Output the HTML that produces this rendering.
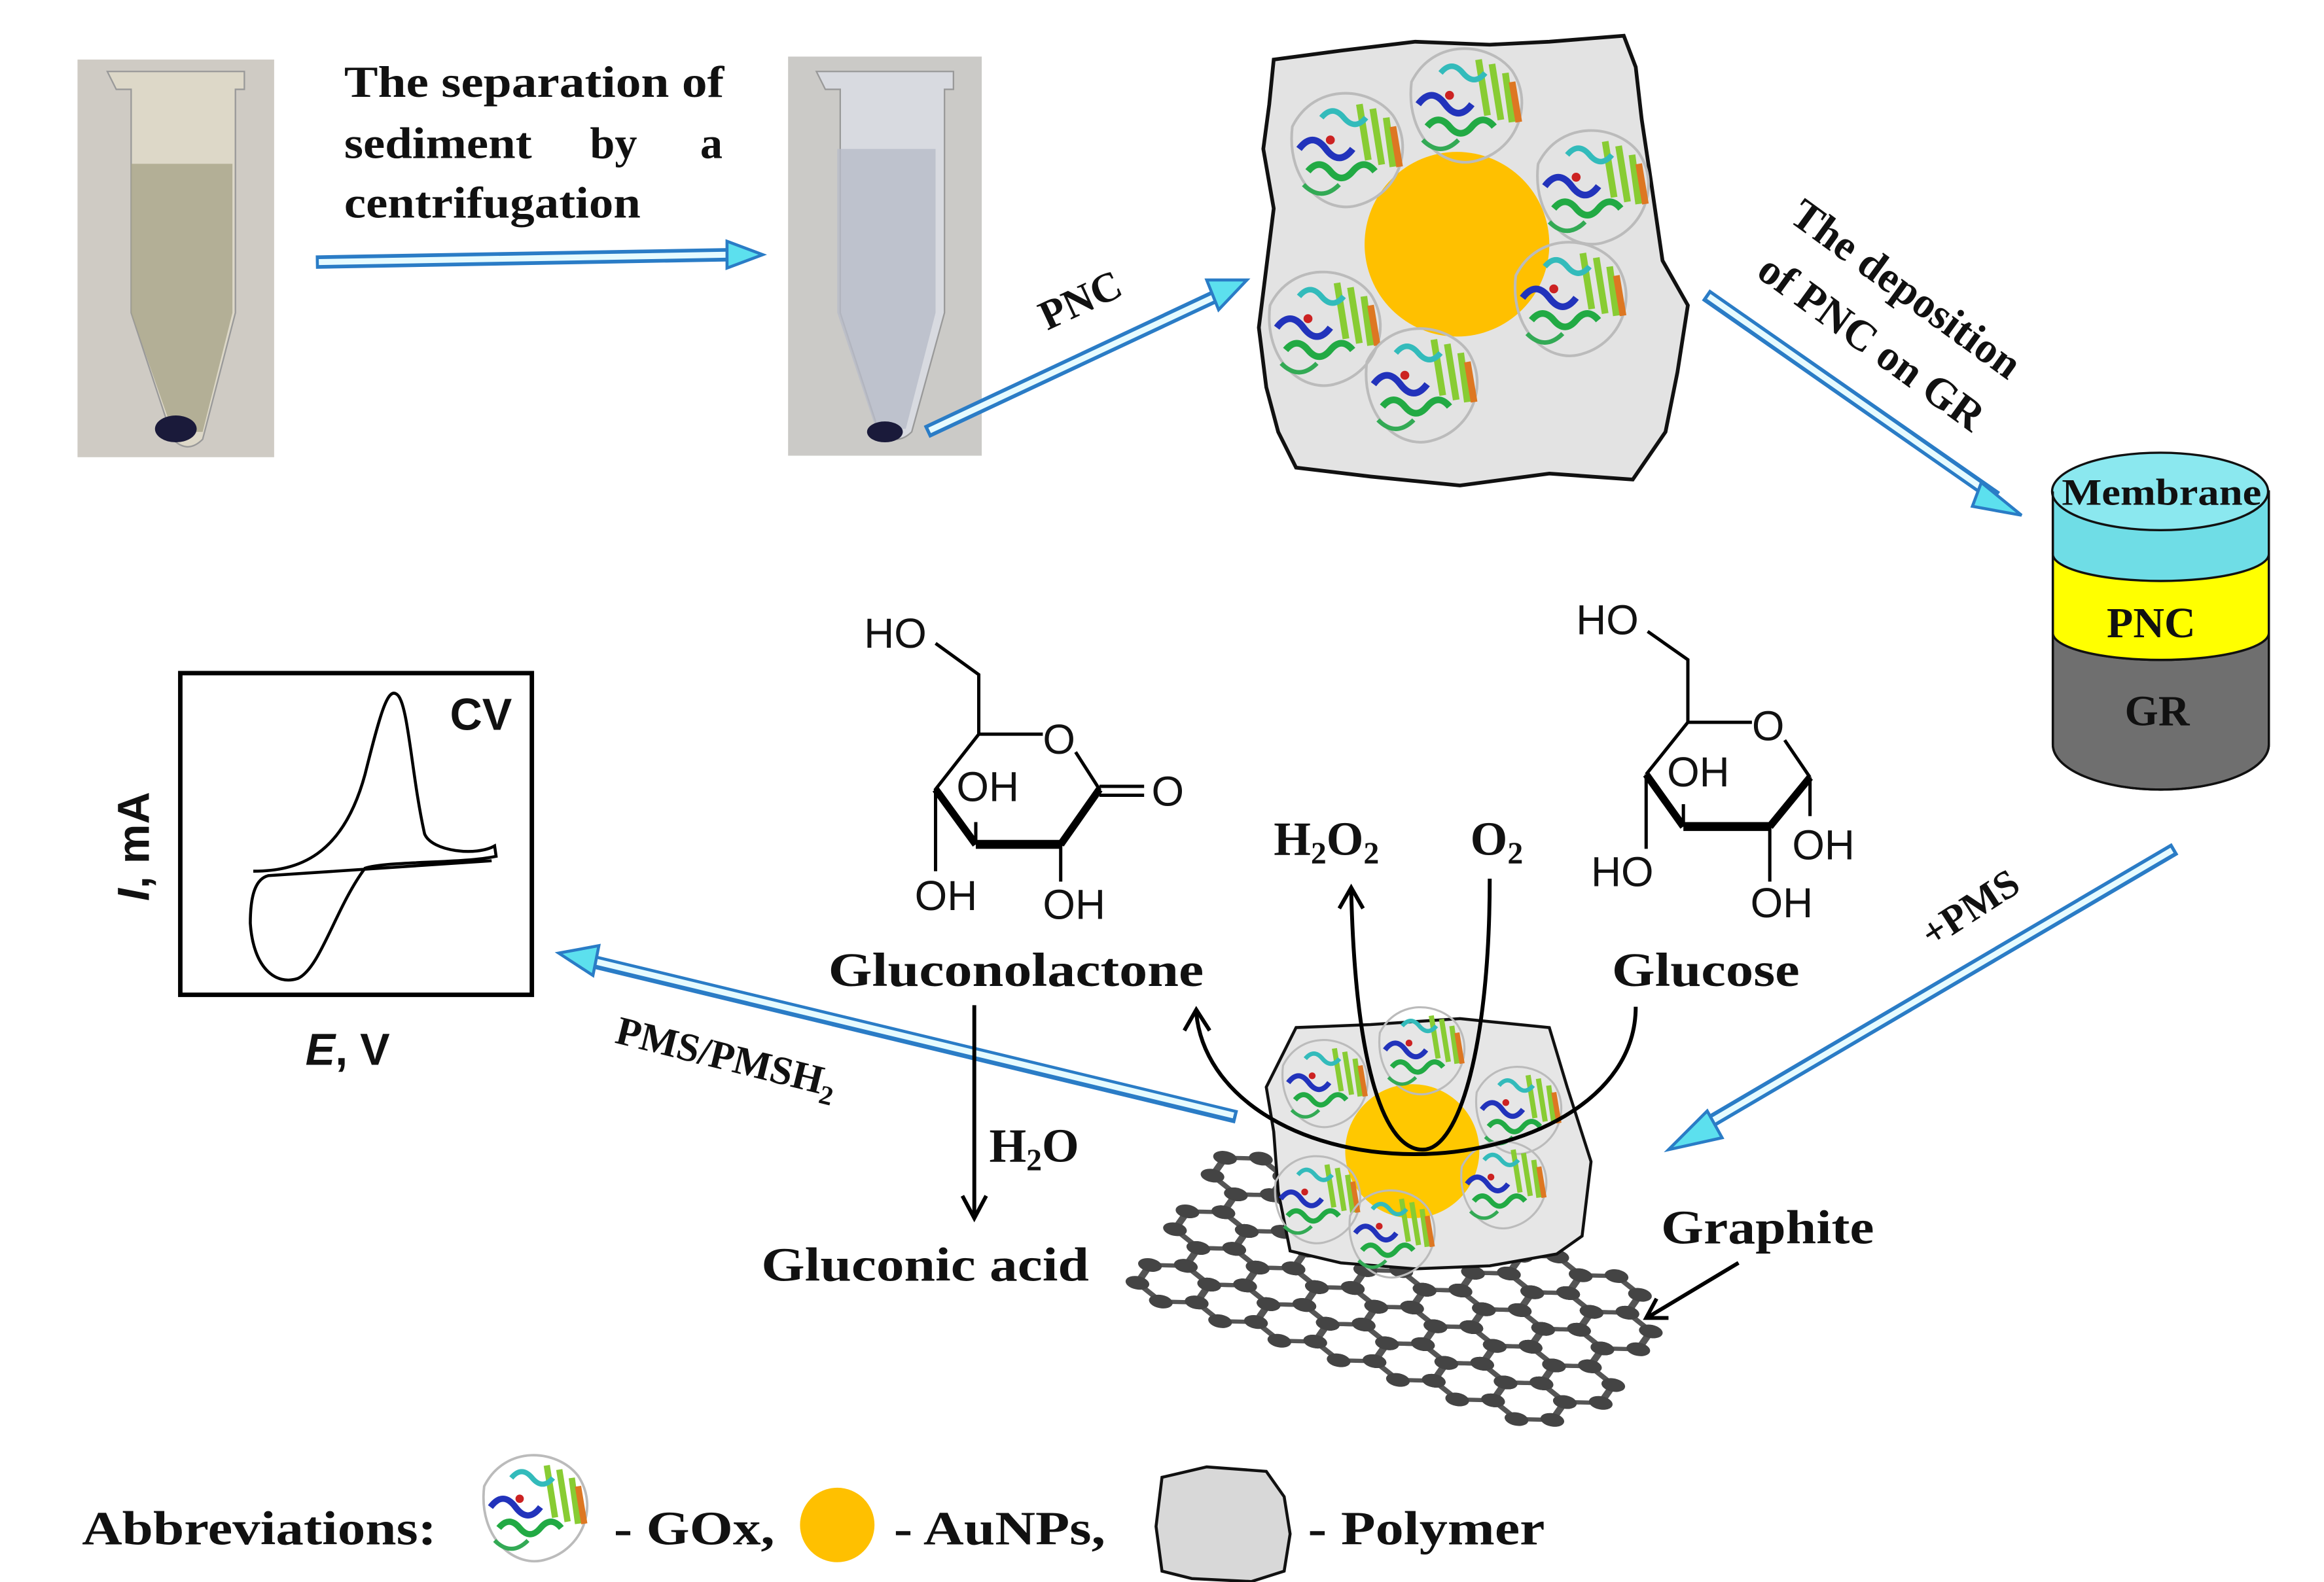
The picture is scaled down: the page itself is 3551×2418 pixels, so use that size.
<!DOCTYPE html>
<html><head><meta charset="utf-8"><style>
html,body{margin:0;padding:0;background:#fff;}
svg{display:block;}
.t{font-family:"Liberation Serif",serif;font-weight:bold;fill:#111;}
.s{font-family:"Liberation Sans",sans-serif;fill:#111;}
</style></head><body>
<svg width="3551" height="2418" viewBox="0 0 1560 1062.3" xmlns="http://www.w3.org/2000/svg">
<defs>
<g id="prot">
<path d="M-25,-10 C-15,-30 10,-28 20,-15 C30,0 22,20 5,25 C-10,30 -28,15 -25,-10Z" fill="none" stroke="#bbb" stroke-width="1.2"/>
<path d="M-22,0 q6,-8 12,0 t12,0" stroke="#2233bb" stroke-width="3" fill="none"/>
<path d="M-18,10 q5,-6 10,0 t10,0 t10,0" stroke="#22aa44" stroke-width="3" fill="none"/>
<path d="M5,-20 l4,25 M11,-18 l4,25 M17,-14 l3,22" stroke="#88cc33" stroke-width="3"/>
<path d="M-12,-14 q5,-6 10,0 t10,0" stroke="#33bbbb" stroke-width="2.5" fill="none"/>
<path d="M20,-10 l3,18" stroke="#dd7722" stroke-width="3"/>
<path d="M-20,16 q8,8 16,0" stroke="#33aa55" stroke-width="2" fill="none"/>
<circle cx="-8" cy="-4" r="2" fill="#cc2222"/>
</g>
<g id="hex" stroke="#555" stroke-width="4" fill="none">
<path d="M0,-20 L17.3,-10 L17.3,10 L0,20 L-17.3,10 L-17.3,-10Z"/>
</g>
<g id="atoms" fill="#444">
<circle cx="0" cy="-20" r="6.5"/><circle cx="17.3" cy="-10" r="6.5"/><circle cx="17.3" cy="10" r="6.5"/>
<circle cx="0" cy="20" r="6.5"/><circle cx="-17.3" cy="10" r="6.5"/><circle cx="-17.3" cy="-10" r="6.5"/>
</g>
</defs>

<!-- tube photos -->
<rect x="52" y="40" width="132" height="267" fill="#cfcbc4"/>
<path d="M72,48 h92 v12 h-6 v150 l-22,85 q-10,10 -20,0 l-28,-85 v-150 h-10Z" fill="#ddd8c8" stroke="#999" stroke-width="1"/>
<path d="M88,110 h68 v100 l-20,80 h-20 l-28,-80Z" fill="#a9a58a" opacity="0.8"/>
<ellipse cx="118" cy="288" rx="14" ry="9" fill="#1a1a3a"/>
<rect x="529" y="38" width="130" height="268" fill="#cbcac7"/>
<path d="M548,48 h92 v12 h-6 v150 l-22,80 q-10,10 -22,0 l-26,-80 v-150 h-10Z" fill="#d8dae0" stroke="#999" stroke-width="1"/>
<path d="M562,100 h66 v110 l-20,78 h-20 l-26,-78Z" fill="#b8bcc8" opacity="0.8"/>
<ellipse cx="594" cy="290" rx="12" ry="7" fill="#1a1a3a"/>

<g class="t" font-size="30">
<text x="231" y="65" textLength="255" lengthAdjust="spacingAndGlyphs">The separation of</text>
<text x="231" y="106" textLength="126" lengthAdjust="spacingAndGlyphs">sediment</text>
<text x="396" y="106">by</text>
<text x="470" y="106">a</text>
<text x="231" y="146" textLength="199" lengthAdjust="spacingAndGlyphs">centrifugation</text>
</g>

<!-- blue double arrows -->
<g stroke-linejoin="miter">
<line x1="212" y1="176" x2="492" y2="171" stroke="#2a7cc6" stroke-width="9"/>
<line x1="214" y1="176" x2="490" y2="171" stroke="#e6fbff" stroke-width="4"/>
<polygon points="488,162 512,171 488,180" fill="#5ce0ee" stroke="#2a7cc6" stroke-width="2"/>

<line x1="622" y1="290" x2="818" y2="198" stroke="#2a7cc6" stroke-width="9"/>
<line x1="624" y1="289" x2="816" y2="199" stroke="#e6fbff" stroke-width="4"/>
<polygon points="810,188 837,188 818,208" fill="#5ce0ee" stroke="#2a7cc6" stroke-width="2"/>

<line x1="1145" y1="198" x2="1340" y2="334" stroke="#2a7cc6" stroke-width="9"/>
<line x1="1147" y1="199" x2="1338" y2="333" stroke="#e6fbff" stroke-width="4"/>
<polygon points="1330,324 1357,346 1324,340" fill="#5ce0ee" stroke="#2a7cc6" stroke-width="2"/>

<line x1="1460" y1="570" x2="1140" y2="758" stroke="#2a7cc6" stroke-width="9"/>
<line x1="1458" y1="571" x2="1142" y2="757" stroke="#e6fbff" stroke-width="4"/>
<polygon points="1146,746 1120,772 1156,764" fill="#5ce0ee" stroke="#2a7cc6" stroke-width="2"/>

<line x1="830" y1="750" x2="395" y2="645" stroke="#2a7cc6" stroke-width="9"/>
<line x1="828" y1="749" x2="397" y2="645" stroke="#e6fbff" stroke-width="4"/>
<polygon points="402,635 375,640 398,655" fill="#5ce0ee" stroke="#2a7cc6" stroke-width="2"/>
</g>

<text class="t" font-size="28" transform="translate(703,222) rotate(-25)">PNC</text>
<g transform="translate(1200,148) rotate(36)"><text class="t" font-size="29" x="0" y="0">The  deposition</text></g>
<g transform="translate(1178,185) rotate(36)"><text class="t" font-size="29" x="0" y="0">of PNC on GR</text></g>
<text class="t" font-size="27" transform="translate(1297,637) rotate(-33)">+PMS</text>
<text class="t" font-size="27" transform="translate(412,700) rotate(14)">PMS/PMSH<tspan font-size="18" dy="6">2</tspan></text>

<!-- PNC blob top -->
<path d="M855,40 L900,34 950,28 1000,30 1040,28 1090,24 1098,45 1102,80 1108,120 1116,175 1133,205 1126,250 1118,290 1096,322 1040,318 980,326 920,320 870,314 858,290 850,260 845,220 850,180 855,140 848,100 852,70Z" fill="#e3e3e3" stroke="#111" stroke-width="2.5"/>
<circle cx="978" cy="164" r="62" fill="#ffc000"/>
<use href="#prot" transform="translate(905,100) scale(1.5)"/>
<use href="#prot" transform="translate(985,70) scale(1.5)"/>
<use href="#prot" transform="translate(1070,125) scale(1.5)"/>
<use href="#prot" transform="translate(890,220) scale(1.5)"/>
<use href="#prot" transform="translate(1055,200) scale(1.5)"/>
<use href="#prot" transform="translate(955,258) scale(1.5)"/>

<!-- cylinder -->
<path d="M1378,330 v170 a72,30 0 0 0 145,0 v-170Z" fill="#6b6b6b"/>
<path d="M1378,425 v75 a72,30 0 0 0 145,0 v-75 a72,18 0 0 1 -145,0Z" fill="#6f6f6f" stroke="#111" stroke-width="1.5"/>
<path d="M1378,372 v53 a72,18 0 0 0 145,0 v-53Z" fill="#ffff00" stroke="#111" stroke-width="1.5"/>
<path d="M1378,330 v42 a72,18 0 0 0 145,0 v-42Z" fill="#6fdde6" stroke="#111" stroke-width="1.5"/>
<ellipse cx="1450" cy="330" rx="72.5" ry="26" fill="#8be8ef" stroke="#111" stroke-width="1.5"/>
<path d="M1378,330 v170 a72,30 0 0 0 145,0 v-170" fill="none" stroke="#111" stroke-width="1.5"/>
<text class="t" font-size="25" x="1384" y="339" textLength="134" lengthAdjust="spacingAndGlyphs">Membrane</text>
<text class="t" font-size="29" x="1444" y="428" text-anchor="middle">PNC</text>
<text class="t" font-size="29" x="1448" y="487" text-anchor="middle">GR</text>

<!-- CV box -->
<rect x="121" y="452" width="236" height="216" fill="#fff" stroke="#000" stroke-width="3"/>
<text class="s" font-weight="bold" font-size="30" x="302" y="490">CV</text>
<path d="M170,585 C200,585 230,575 245,520 C255,480 260,462 266,466 C274,470 276,520 285,560 C290,572 320,575 332,568 L333,575 C310,580 260,578 245,583 C225,610 215,650 200,657 C185,662 170,650 168,620 C168,600 172,590 180,588 L330,578" fill="none" stroke="#000" stroke-width="2"/>
<text class="s" font-weight="bold" font-size="30" transform="translate(100,605) rotate(-90)"><tspan font-style="italic">I</tspan>, mA</text>
<text class="s" font-weight="bold" font-size="30" x="205" y="715"><tspan font-style="italic">E</tspan>, V</text>

<!-- gluconolactone -->
<g stroke="#000" stroke-width="2.2" fill="none">
<path d="M628,432 L657,453 L657,493 L700,493"/>
<path d="M722,505 L738,530 L712,568 M657,493 L628,530 L655,567"/>
<path d="M738,528 H768 M738,534 H768"/>
<path d="M628,530 V585 M712,568 V592 M655,567 V552"/>
</g>
<path d="M628,530 L655,567" stroke="#000" stroke-width="5"/>
<path d="M655,567 L712,567" stroke="#000" stroke-width="6"/>
<path d="M712,567 L738,530" stroke="#000" stroke-width="5"/>
<g class="s" font-size="28">
<text x="580" y="435">HO</text><text x="700" y="506">O</text><text x="773" y="541">O</text>
<text x="642" y="538">OH</text><text x="614" y="611">OH</text><text x="700" y="617">OH</text>
</g>
<text class="t" font-size="32" x="556" y="662" textLength="252" lengthAdjust="spacingAndGlyphs">Gluconolactone</text>

<!-- glucose -->
<g stroke="#000" stroke-width="2.2" fill="none">
<path d="M1106,424 L1133,443 L1133,485 L1176,485"/>
<path d="M1198,497 L1215,522 M1133,485 L1105,520"/>
<path d="M1105,520 V570 M1188,555 V592 M1215,522 V548 M1130,555 V540"/>
</g>
<path d="M1105,520 L1130,555" stroke="#000" stroke-width="5"/>
<path d="M1130,555 L1188,555" stroke="#000" stroke-width="6"/>
<path d="M1188,555 L1215,522" stroke="#000" stroke-width="5"/>
<g class="s" font-size="28">
<text x="1058" y="426">HO</text><text x="1176" y="497">O</text>
<text x="1119" y="528">OH</text><text x="1068" y="595">HO</text>
<text x="1203" y="577">OH</text><text x="1175" y="616">OH</text>
</g>
<text class="t" font-size="32" x="1082" y="662" textLength="126" lengthAdjust="spacingAndGlyphs">Glucose</text>

<text class="t" font-size="32" x="855" y="574">H<tspan font-size="21" dy="6">2</tspan><tspan dy="-6">O</tspan><tspan font-size="21" dy="6">2</tspan></text>
<text class="t" font-size="32" x="987" y="574">O<tspan font-size="21" dy="6">2</tspan></text>

<!-- graphite -->
<g transform="matrix(1.15,0.38,-0.42,0.6,838,790)">
<g id="hexrow">
<use href="#hex" x="0" y="0"/><use href="#hex" x="34.6" y="0"/><use href="#hex" x="69.2" y="0"/><use href="#hex" x="103.8" y="0"/><use href="#hex" x="138.4" y="0"/><use href="#hex" x="173" y="0"/><use href="#hex" x="207.6" y="0"/>
<use href="#atoms" x="0" y="0"/><use href="#atoms" x="34.6" y="0"/><use href="#atoms" x="69.2" y="0"/><use href="#atoms" x="103.8" y="0"/><use href="#atoms" x="138.4" y="0"/><use href="#atoms" x="173" y="0"/><use href="#atoms" x="207.6" y="0"/>
</g>
<use href="#hexrow" x="17.3" y="30"/>
<use href="#hexrow" x="0" y="60"/>
<use href="#hexrow" x="17.3" y="90"/>
<use href="#hexrow" x="0" y="120"/>
</g>

<!-- bottom polymer -->
<path d="M870,690 L920,688 980,684 1040,690 1052,730 1068,780 1062,830 1045,842 1000,850 950,852 900,848 866,840 858,800 855,760 850,730Z" fill="#e6e6e6" stroke="#111" stroke-width="2"/>
<circle cx="948" cy="773" r="45" fill="#ffc800"/>
<use href="#prot" transform="translate(890,727) scale(1.15)"/>
<use href="#prot" transform="translate(955,705) scale(1.15)"/>
<use href="#prot" transform="translate(1020,745) scale(1.15)"/>
<use href="#prot" transform="translate(885,805) scale(1.15)"/>
<use href="#prot" transform="translate(1010,795) scale(1.15)"/>
<use href="#prot" transform="translate(935,828) scale(1.15)"/>

<!-- curved arrows -->
<g stroke="#000" stroke-width="2.6" fill="none">
<path d="M1098,676 C1098,740 1020,775 950,775 C870,775 808,735 803,680"/>
<path d="M795,692 L803,678 L812,692"/>
<path d="M1000,590 C1000,700 980,772 955,772 C930,772 910,720 907,598"/>
<path d="M899,610 L907,596 L915,610"/>
<path d="M654,675 V815 M646,803 L654,818 L662,803"/>
<path d="M1167,848 L1107,884 M1112,872 L1105,885 L1120,885"/>
</g>
<text class="t" font-size="32" x="664" y="780">H<tspan font-size="21" dy="6">2</tspan><tspan dy="-6">O</tspan></text>
<text class="t" font-size="32" x="511" y="860" textLength="220" lengthAdjust="spacingAndGlyphs">Gluconic acid</text>
<text class="t" font-size="32" x="1115" y="835" textLength="143" lengthAdjust="spacingAndGlyphs">Graphite</text>

<!-- legend -->
<text class="t" font-size="32" x="55" y="1037" textLength="238" lengthAdjust="spacingAndGlyphs">Abbreviations:</text>
<use href="#prot" transform="translate(360,1012) scale(1.4)"/>
<text class="t" font-size="32" x="412" y="1037" textLength="108" lengthAdjust="spacingAndGlyphs">- GOx,</text>
<circle cx="562" cy="1024" r="25" fill="#ffc000"/>
<text class="t" font-size="32" x="600" y="1037" textLength="142" lengthAdjust="spacingAndGlyphs">- AuNPs,</text>
<path d="M780,992 L810,985 850,988 862,1005 866,1030 862,1055 840,1062 800,1060 780,1055 776,1025Z" fill="#d8d8d8" stroke="#111" stroke-width="2"/>
<text class="t" font-size="32" x="878" y="1037" textLength="159" lengthAdjust="spacingAndGlyphs">- Polymer</text>
</svg>
</body></html>
